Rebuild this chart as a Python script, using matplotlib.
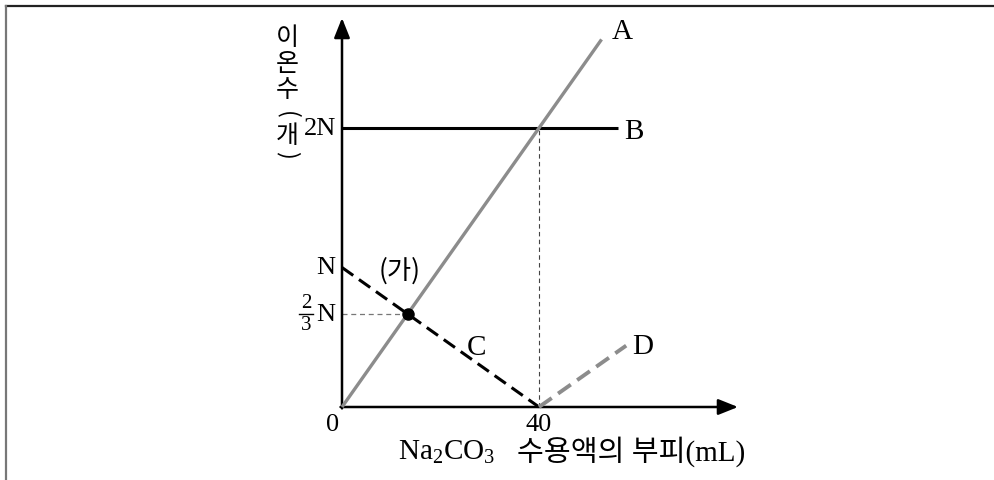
import matplotlib
matplotlib.use("Agg")
import matplotlib.pyplot as plt
from matplotlib.lines import Line2D

# ---- data (volume in mL, ion count in units of N) ----
line_A_x = [0, 52.7]
line_A_y = [0, 2.635]
line_B_x = [0, 56.0]
line_B_y = [2, 2]
line_C_x = [0, 40]
line_C_y = [1, 0]
line_D_x = [40, 57.7]
line_D_y = [0, 0.44]
point_x = 40 / 3
point_y = 2 / 3
x_ticks = [0, 40]
x_tick_labels = ["0", "40"]
line_names = ["A", "B", "C", "D"]

plt.rcParams["mathtext.fontset"] = "custom"
plt.rcParams["mathtext.rm"] = "Liberation Serif"
plt.rcParams["mathtext.it"] = "Liberation Serif:italic"

W, H = 995, 480
fig = plt.figure(figsize=(W / 100, H / 100), dpi=100)
ax = fig.add_axes([0, 0, 1, 1])
ax.set_axis_off()

# pixel layout of the coordinate frame
X0, XS = 342.0, 4.925     # origin column, pixels per mL
Y0, YS = 407.0, 139.5     # origin row, pixels per N
ax.set_xlim(-X0 / XS, (W - X0) / XS)
ax.set_ylim((Y0 - H) / YS, Y0 / YS)


def px(x, y):
    """pixel position -> data coordinates"""
    return (x - X0) / XS, (Y0 - y) / YS


SERIF = ["Liberation Serif", "DejaVu Serif"]
KR = ["Noto Sans CJK KR", "DejaVu Sans"]
MIX = ["Liberation Serif", "Noto Sans CJK KR", "DejaVu Sans"]

# frame around the figure (top and left edges)
fig.add_artist(Line2D([6 / W, 1], [1 - 6 / H, 1 - 6 / H], transform=fig.transFigure,
                      color="#222222", lw=1.6))
fig.add_artist(Line2D([6 / W, 6 / W], [0, 1 - 6 / H], transform=fig.transFigure,
                      color="#777777", lw=1.6))

# axes with arrow heads
x_end = px(738, 0)[0]
y_end = px(0, 18)[1]
arrow = dict(arrowstyle="-|>,head_length=1.0,head_width=0.4", lw=1.8,
             color="black", shrinkA=0, shrinkB=0, mutation_scale=12)
ax.annotate("", xy=(x_end, 0), xytext=(-0.3, 0), arrowprops=arrow)
ax.annotate("", xy=(0, y_end), xytext=(0, -0.01), arrowprops=arrow)

# guide lines
ax.plot([0, point_x], [point_y, point_y], color="#777777", lw=0.9,
        ls=(0, (4, 3)), zorder=2)
ax.plot([40, 40], [0, 2], color="#444444", lw=0.8, ls=(0, (4, 3)), zorder=2)

# data lines
ax.plot(line_B_x, line_B_y, color="black", lw=2.2, solid_capstyle="butt", zorder=3)
ax.plot(line_A_x, line_A_y, color="#8c8c8c", lw=2.4, solid_capstyle="butt", zorder=4)
ax.plot(line_C_x, line_C_y, color="black", lw=2.2, ls=(0, (4.5, 2.3)), zorder=3)
ax.plot(line_D_x, line_D_y, color="#8c8c8c", lw=2.8, ls=(0, (4.0, 2.0)), zorder=3)
ax.plot([point_x], [point_y], "o", color="black", ms=8, zorder=5)

# line names
name_pos = [(622, 32), (634, 132), (477, 348), (643, 347)]
for name, (x, y) in zip(line_names, name_pos):
    ax.text(*px(x, y), name, family=SERIF, fontsize=21, ha="center", va="center")

# point label
ax.text(*px(400, 271), "(가)", family=KR, fontsize=19, ha="center", va="center")

# x tick labels
for v, lab in zip(x_ticks, x_tick_labels):
    ax.text(*px(X0 + v * XS - 9 * (v == 0), 425), lab, family=SERIF, fontsize=19,
            ha="center", va="center")

# y tick labels
ax.text(*px(320, 129), "2N", family=SERIF, fontsize=19, ha="center", va="center")
ax.text(*px(326, 268), "N", family=SERIF, fontsize=19, ha="center", va="center")
ax.text(*px(326, 315), "N", family=SERIF, fontsize=19, ha="center", va="center")
ax.text(*px(306, 303), "2", family=SERIF, fontsize=15, ha="center", va="center")
ax.text(*px(306, 326), "3", family=SERIF, fontsize=15, ha="center", va="center")
fx0, fy = px(299, 314)
fx1, _ = px(313, 314)
ax.plot([fx0, fx1], [fy, fy], color="black", lw=1.0)

# x axis title
ax.text(*px(398, 452), r"$\mathrm{Na_2CO_3}$", fontsize=21, ha="left", va="center")
ax.text(*px(517, 452), "수용액의 부피(mL)", family=MIX, fontsize=21,
        ha="left", va="center")

# y axis title, stacked vertically
ylab = [("이", 38, 0, 18), ("온", 64, 0, 18), ("수", 90, 0, 18), ("(", 115, -90, 17),
        ("개", 136, 0, 18), (")", 155, -90, 17)]
for ch, y, rot, fs in ylab:
    ax.text(*px(287, y), ch, family=KR, fontsize=fs, ha="center", va="center",
            rotation=rot, linespacing=1.0)

fig.savefig("out.png", dpi=100)
